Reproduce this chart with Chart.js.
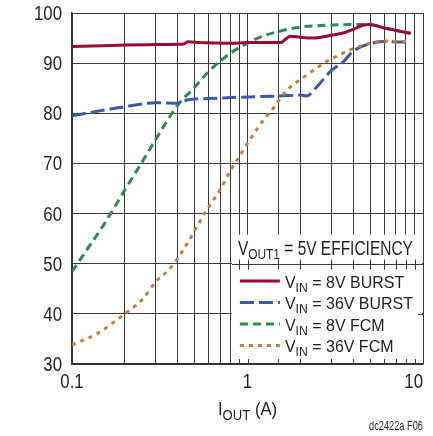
<!DOCTYPE html>
<html>
<head>
<meta charset="utf-8">
<script src="https://cdn.jsdelivr.net/npm/chart.js@4.4.1/dist/chart.umd.min.js"></script>
<style>
	html, body { margin: 0; padding: 0; background: #fff; }
	#wrap { width: 433px; height: 436px; }
</style>
</head>
<body>
<div id="wrap"><canvas id="effChart" width="433" height="436"></canvas></div>
<script>
// 차트 데이터
var burst8X = [0.1, 0.15, 0.2, 0.3, 0.4, 0.43, 0.46, 0.5, 0.7, 0.8, 1.0, 1.3, 1.55, 1.65, 1.75, 2.0, 2.4, 3.0, 3.6, 4.0, 4.6, 4.9, 6.2, 8.5];
var burst8Y = [93.3, 93.45, 93.6, 93.7, 93.75, 93.8, 94.25, 94.15, 94.0, 93.95, 94.1, 94.1, 94.1, 94.8, 95.35, 95.15, 95.0, 95.55, 96.1, 96.75, 97.6, 97.7, 96.9, 95.95];

var burst36X = [0.1, 0.15, 0.2, 0.3, 0.4, 0.43, 0.45, 0.6, 0.9, 1.5, 2.0, 2.17, 2.5, 3.0, 3.5, 4.0, 5.0, 6.2, 8.5];
var burst36Y = [79.5, 80.6, 81.3, 82.1, 82.0, 82.3, 82.65, 82.95, 83.2, 83.45, 83.65, 83.45, 85.4, 88.5, 90.2, 92.4, 93.9, 94.3, 94.15];

var fcm8X = [0.1, 0.12, 0.15, 0.2, 0.25, 0.3, 0.4, 0.5, 0.6, 0.7, 0.8, 1.0, 1.2, 1.5, 2.0, 2.5, 3.0, 4.0, 4.9, 6.2, 8.5];
var fcm8Y = [48.4, 52.5, 57.5, 64.7, 70.2, 74.8, 81.6, 85.2, 88.3, 90.4, 92.0, 94.0, 95.3, 96.3, 97.2, 97.45, 97.6, 97.7, 97.7, 96.9, 95.95];

var fcm36X = [0.1, 0.138, 0.2, 0.255, 0.3, 0.35, 0.39, 0.46, 0.5, 0.585, 0.7, 0.8, 0.9, 1.0, 1.15, 1.25, 1.4, 1.67, 2.17, 2.76, 3.5, 4.3, 5.2, 6.0, 8.5];
var fcm36Y = [33.8, 36.0, 40.0, 43.1, 46.4, 48.5, 50.5, 54.4, 56.6, 60.7, 64.8, 68.6, 71.4, 74.0, 77.2, 78.9, 81.0, 84.5, 87.6, 90.1, 92.0, 93.3, 94.1, 94.4, 94.3];

var xLabelTicks = [0.1, 1, 10];   // 라벨을 표시할 x 눈금
var yMin = 30, yMax = 100, yStep = 10;

var FONT = "'Liberation Sans', Arial, sans-serif";
var TEXT = "#231f20";
var GRID = "#3a3a3a";

// 범례 항목 (아래첨자 포함)
var legendRows = [
	{ label: "8V BURST", color: "#9a0a30", dash: [] },
	{ label: "36V BURST", color: "#3b5aa6", dash: [14, 5] },
	{ label: "8V FCM", color: "#2b8c4b", dash: [8, 5] },
	{ label: "36V FCM", color: "#c47d3c", dash: [4, 5] }
];

function toPoints(xs, ys) {
	return xs.map(function(x, i) { return { x: x, y: ys[i] }; });
}

// 좁은 글꼴 흉내: 가로로 눌러서 그리기 (아래첨자 지원)
function drawText(ctx, parts, x, y, size, opt) {
	opt = opt || {};
	var subSize = Math.round(size * 0.78);
	var w = 0;
	parts.forEach(function(p) {
		ctx.font = (p[1] ? subSize : size) + "px " + FONT;
		w += ctx.measureText(p[0]).width;
	});
	var sx = opt.width ? opt.width / w : (opt.sx || 0.86);
	var total = w * sx;
	var x0 = x;
	if (opt.align === "center") x0 = x - total / 2;
	if (opt.align === "right") x0 = x - total;
	ctx.save();
	ctx.translate(x0, y);
	if (opt.rotate) ctx.rotate(opt.rotate);
	ctx.scale(sx, 1);
	ctx.textAlign = "left";
	ctx.textBaseline = "alphabetic";
	var cx = 0;
	parts.forEach(function(p) {
		ctx.font = (p[1] ? subSize : size) + "px " + FONT;
		ctx.fillText(p[0], cx, p[1] ? size * 0.24 : 0);
		cx += ctx.measureText(p[0]).width;
	});
	ctx.restore();
	return total;
}

var overlayPlugin = {
	id: "overlay",
	afterDraw: function(chart) {
		var ctx = chart.ctx;
		var a = chart.chartArea;
		var xs = chart.scales.x, ys = chart.scales.y;
		ctx.save();
		ctx.fillStyle = TEXT;

		// 눈금 라벨
		ys.ticks.forEach(function(t) {
			var py = ys.getPixelForValue(t.value);
			drawText(ctx, [[String(t.value)]], a.left - 10, py + 7, 19.5, { align: "right", sx: 0.86 });
		});
		xLabelTicks.forEach(function(v) {
			var px = xs.getPixelForValue(v);
			var s = String(v);
			ctx.font = "19.5px " + FONT;
			var half = ctx.measureText(s).width * 0.86 / 2;
			if (px + half > a.right) {
				drawText(ctx, [[s]], a.right, 388, 19.5, { align: "right", sx: 0.86 });
			} else {
				drawText(ctx, [[s]], px, 388, 19.5, { align: "center", sx: 0.86 });
			}
		});

		// 범례 상자
		var boxL = xs.getPixelForValue(0.815);
		var boxT = ys.getPixelForValue(55.8);
		ctx.fillStyle = "#fff";
		ctx.fillRect(boxL, boxT, a.right - boxL - 1, a.bottom - boxT - 1);

		// 구분선 (50% 격자)
		var sepY = Math.round(ys.getPixelForValue(50)) + 0.5;
		ctx.strokeStyle = GRID;
		ctx.lineWidth = 1;
		ctx.beginPath();
		ctx.moveTo(boxL, sepY);
		ctx.lineTo(a.right, sepY);
		// 세로 격자 눈금 조각
		xs.ticks.forEach(function(t) {
			var px = Math.round(xs.getPixelForValue(t.value)) + 0.5;
			if (px <= boxL || px >= a.right - 1) return;
			ctx.moveTo(px, sepY - 5); ctx.lineTo(px, sepY + 5);
			ctx.moveTo(px, a.bottom - 5); ctx.lineTo(px, a.bottom);
		});
		var y40 = Math.round(ys.getPixelForValue(40)) + 0.5;
		ctx.moveTo(a.right - 5, y40); ctx.lineTo(a.right, y40);
		ctx.stroke();

		ctx.fillStyle = TEXT;
		drawText(ctx, [["V"], ["OUT1", true], [" = 5V EFFICIENCY"]], boxL + 6, sepY - 10, 19.5, { width: 175 });

		// 범례 줄
		var rowY = sepY + 16.5;
		legendRows.forEach(function(r) {
			ctx.strokeStyle = r.color;
			ctx.lineWidth = 3;
			ctx.setLineDash(r.dash);
			ctx.beginPath();
			ctx.moveTo(boxL + 8, rowY);
			ctx.lineTo(boxL + 48, rowY);
			ctx.stroke();
			ctx.setLineDash([]);
			ctx.fillStyle = TEXT;
			drawText(ctx, [["V"], ["IN", true], [" = " + r.label]], boxL + 53, rowY + 6.5, 17, { sx: 0.94 });
			rowY += 21.5;
		});

		// 축 제목
		ctx.fillStyle = TEXT;
		drawText(ctx, [["EFFICIENCY (%)"]], 33, (a.top + a.bottom) / 2, 21, { width: 119, align: "center", rotate: -Math.PI / 2 });
		drawText(ctx, [["I"], ["OUT", true], [" (A)"]], 218, 415, 19, { width: 59 });
		drawText(ctx, [["dc2422a F06"]], 423, 430, 12, { width: 54, align: "right" });
		ctx.restore();
	}
};

var lineCommon = { borderWidth: 3, pointRadius: 0, fill: false, cubicInterpolationMode: "monotone" };

window.effChart = new Chart(document.getElementById("effChart").getContext("2d"), {
	type: "line",
	data: {
		datasets: [
			Object.assign({ label: "36V FCM", data: toPoints(fcm36X, fcm36Y), borderColor: legendRows[3].color, borderDash: legendRows[3].dash }, lineCommon),
			Object.assign({ label: "36V BURST", data: toPoints(burst36X, burst36Y), borderColor: legendRows[1].color, borderDash: legendRows[1].dash }, lineCommon),
			Object.assign({ label: "8V BURST", data: toPoints(burst8X, burst8Y), borderColor: legendRows[0].color, borderDash: legendRows[0].dash }, lineCommon),
			Object.assign({ label: "8V FCM", data: toPoints(fcm8X, fcm8Y), borderColor: legendRows[2].color, borderDash: legendRows[2].dash }, lineCommon)
		]
	},
	options: {
		responsive: false,
		animation: false,
		layout: { padding: { top: 13, right: 10, left: 0, bottom: 0 } },
		plugins: { legend: { display: false }, tooltip: { enabled: false } },
		scales: {
			x: {
				type: "logarithmic",
				min: 0.1,
				max: 10,
				afterFit: function(s) { s.height = 72; },
				grid: { color: GRID, lineWidth: 1, drawTicks: false },
				border: { color: "#333", width: 1.5 },
				ticks: { display: false, autoSkip: false }
			},
			y: {
				min: yMin,
				max: yMax,
				afterFit: function(s) { s.width = 72; },
				grid: { color: GRID, lineWidth: 1, drawTicks: false },
				border: { color: "#333", width: 1.5 },
				ticks: { display: false, stepSize: yStep }
			}
		}
	},
	plugins: [overlayPlugin]
});
</script>
</body>
</html>
